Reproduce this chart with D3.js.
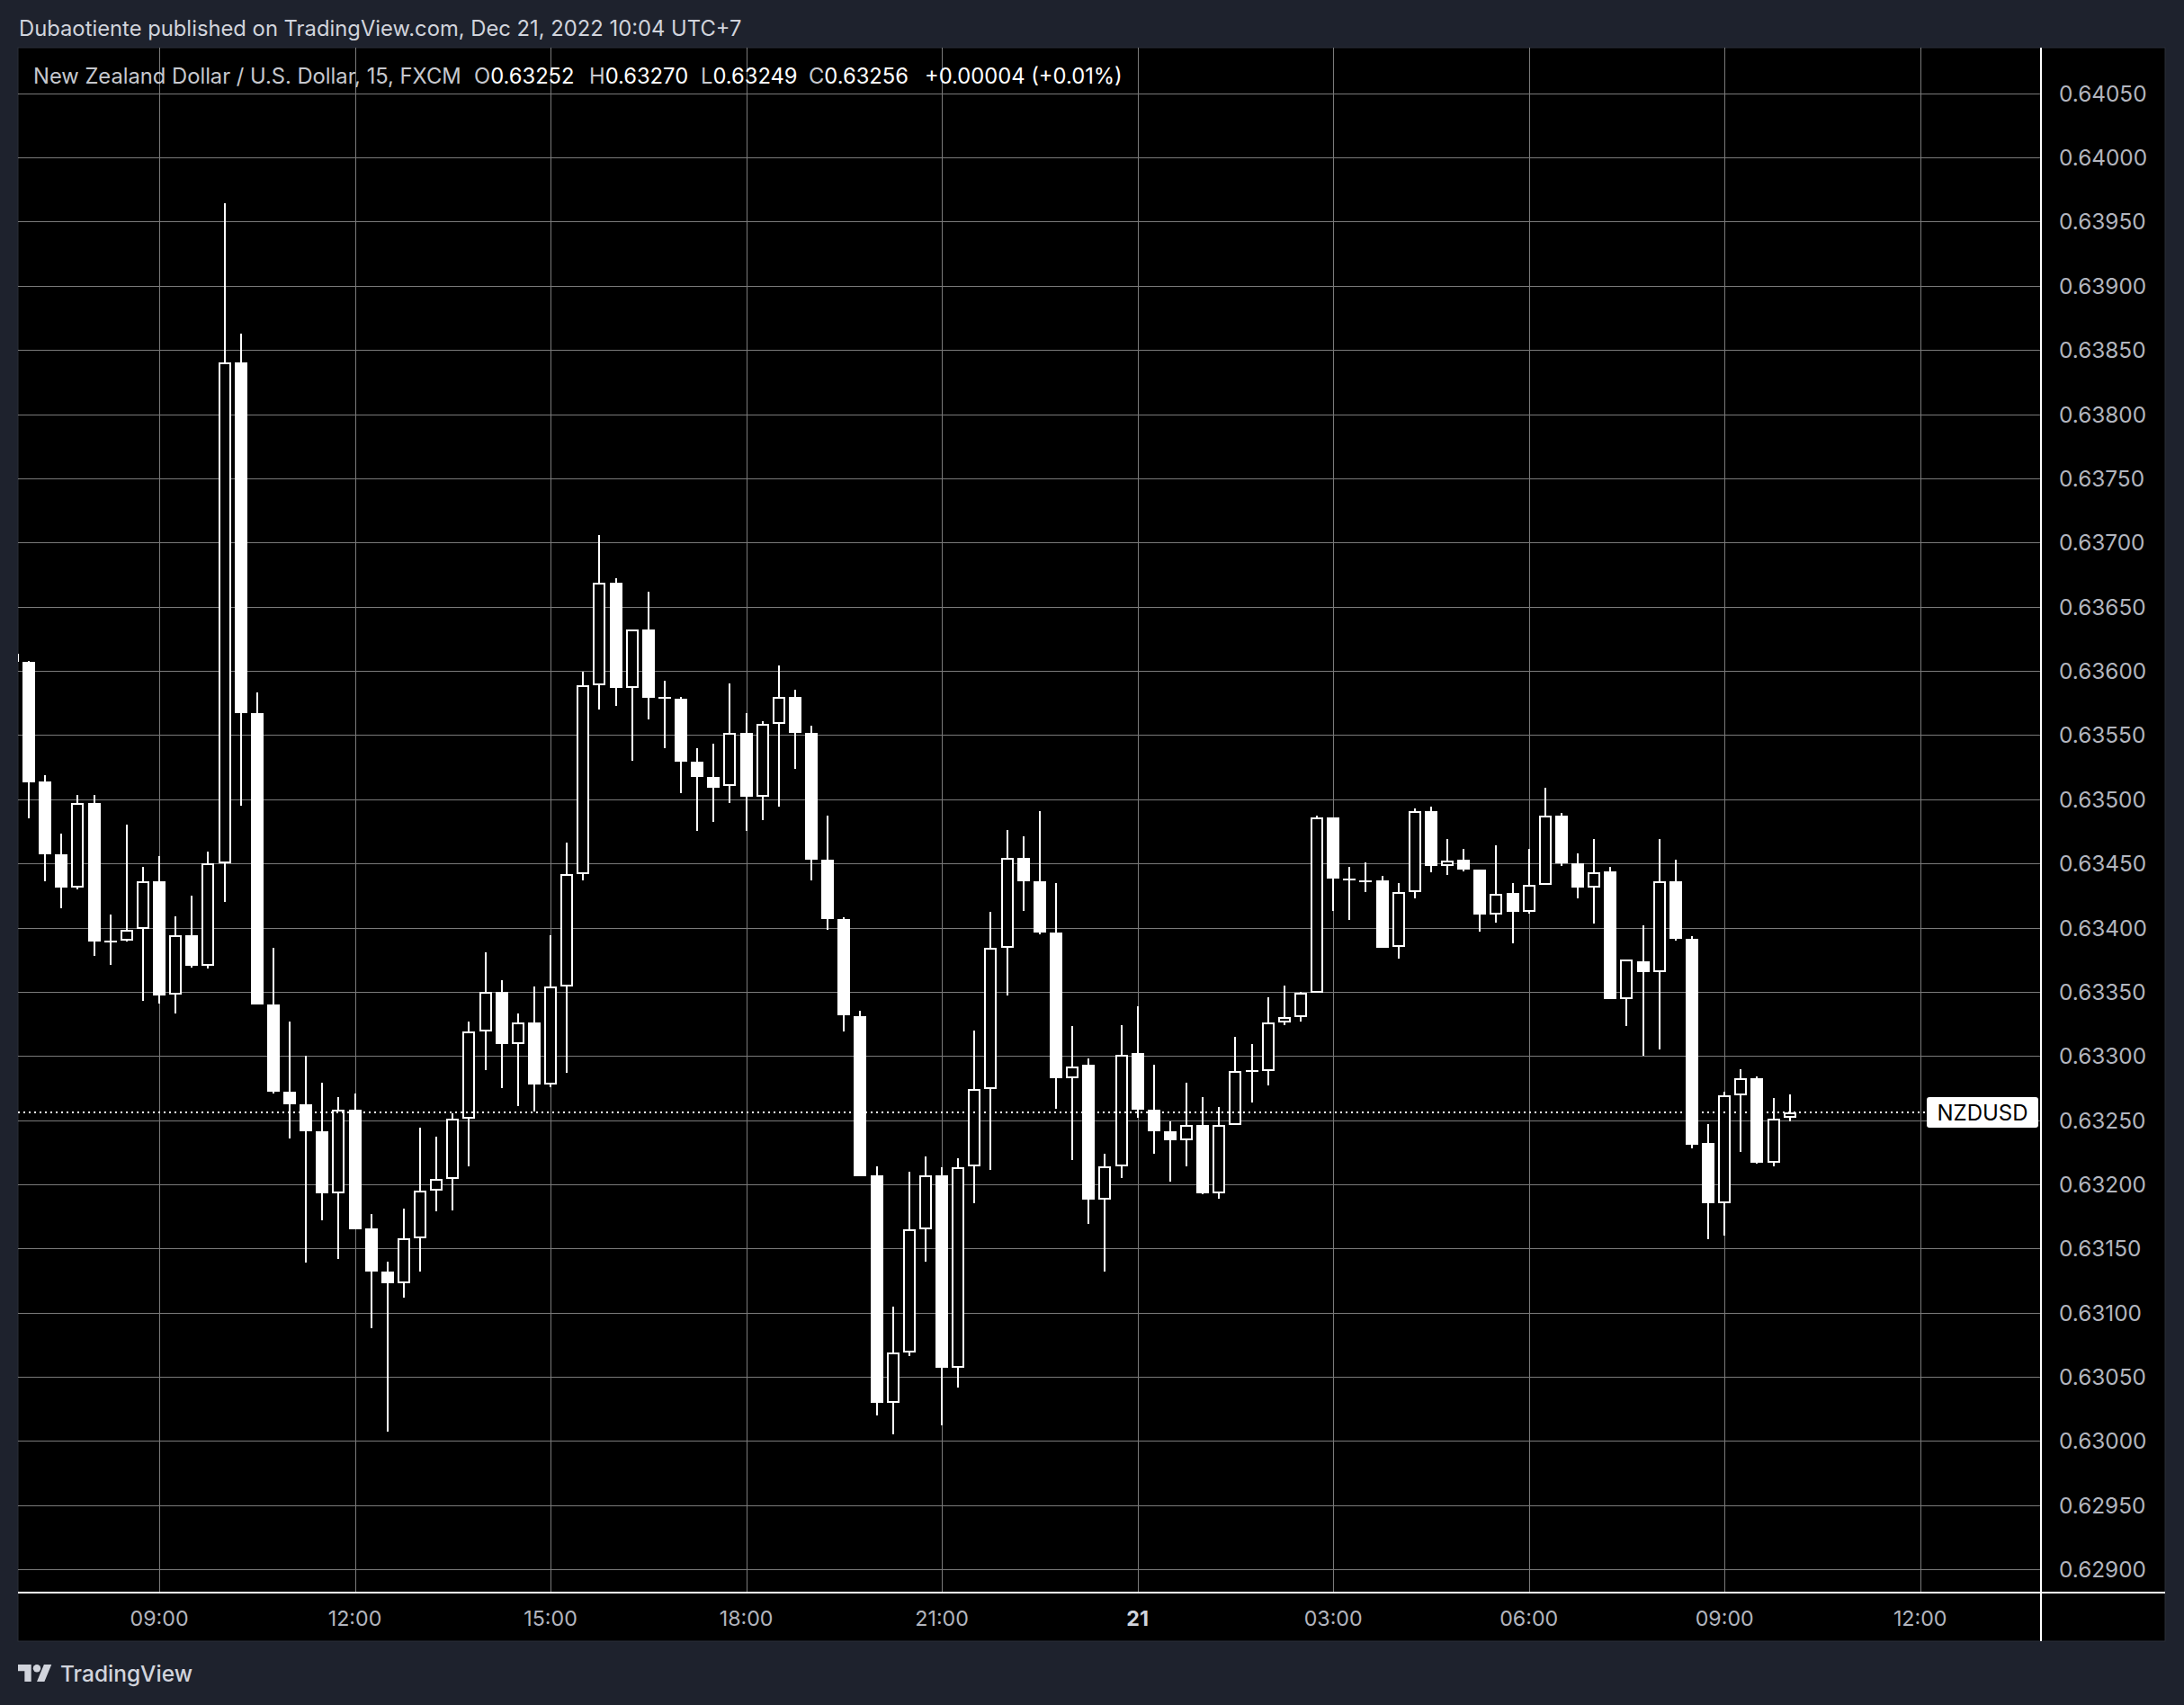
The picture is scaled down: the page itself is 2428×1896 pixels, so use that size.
<!DOCTYPE html>
<html><head><meta charset="utf-8">
<script src="https://cdn.jsdelivr.net/npm/d3@7/dist/d3.min.js"></script>
<style>html,body{margin:0;padding:0;background:#1e222d;overflow:hidden}svg{display:block}</style>
</head><body>
<script>
// ---------------- DATA ----------------
const startTime = "2022-12-20T06:45";   // first 15-minute bar (partly hidden at the left edge)
const opens = [0.63613,
0.63607,0.63514,0.63457,0.63431,0.63497,0.63389,0.63390,0.63399,0.63436,0.63348,
0.63394,0.63370,0.63450,0.63840,0.63567,0.63340,0.63272,0.63262,0.63241,0.63193,
0.63258,0.63166,0.63132,0.63123,0.63158,0.63195,0.63204,0.63251,0.63319,0.63350,
0.63309,0.63326,0.63278,0.63354,0.63442,0.63589,0.63669,0.63587,0.63632,0.63579,
0.63578,0.63529,0.63517,0.63510,0.63552,0.63502,0.63559,0.63580,0.63552,0.63453,
0.63407,0.63331,0.63207,0.63030,0.63069,0.63165,0.63207,0.63057,0.63214,0.63274,
0.63384,0.63454,0.63436,0.63396,0.63283,0.63293,0.63188,0.63214,0.63302,0.63258,
0.63241,0.63234,0.63246,0.63193,0.63246,0.63288,0.63288,0.63326,0.63330,0.63349,
0.63486,0.63438,0.63437,0.63437,0.63385,0.63428,0.63491,0.63448,0.63453,0.63445,
0.63410,0.63427,0.63412,0.63433,0.63487,0.63450,0.63431,0.63444,0.63344,0.63374,
0.63365,0.63436,0.63391,0.63232,0.63185,0.63269,0.63283,0.63217,0.63252];
const highs = [0.63620,
0.63608,0.63519,0.63473,0.63503,0.63503,0.63410,0.63480,0.63447,0.63456,0.63409,
0.63425,0.63459,0.63964,0.63863,0.63583,0.63384,0.63327,0.63300,0.63279,0.63268,
0.63271,0.63177,0.63140,0.63181,0.63244,0.63237,0.63255,0.63327,0.63381,0.63359,
0.63333,0.63354,0.63394,0.63466,0.63599,0.63706,0.63672,0.63632,0.63662,0.63592,
0.63580,0.63540,0.63543,0.63590,0.63567,0.63561,0.63604,0.63585,0.63557,0.63487,
0.63408,0.63335,0.63214,0.63105,0.63210,0.63222,0.63213,0.63220,0.63320,0.63412,
0.63476,0.63471,0.63491,0.63435,0.63323,0.63298,0.63224,0.63324,0.63339,0.63293,
0.63249,0.63279,0.63268,0.63260,0.63315,0.63309,0.63346,0.63355,0.63350,0.63487,
0.63486,0.63447,0.63451,0.63440,0.63435,0.63493,0.63494,0.63469,0.63461,0.63445,
0.63464,0.63435,0.63461,0.63509,0.63489,0.63458,0.63469,0.63447,0.63375,0.63402,
0.63469,0.63453,0.63393,0.63247,0.63272,0.63290,0.63284,0.63267,0.63270];
const lows = [0.63590,
0.63485,0.63436,0.63415,0.63430,0.63378,0.63371,0.63389,0.63343,0.63341,0.63333,
0.63369,0.63368,0.63420,0.63495,0.63340,0.63271,0.63236,0.63139,0.63172,0.63142,
0.63165,0.63088,0.63007,0.63112,0.63132,0.63179,0.63180,0.63214,0.63289,0.63275,
0.63261,0.63257,0.63276,0.63287,0.63437,0.63570,0.63573,0.63530,0.63562,0.63540,
0.63505,0.63475,0.63482,0.63497,0.63475,0.63484,0.63494,0.63524,0.63437,0.63398,
0.63319,0.63206,0.63020,0.63005,0.63066,0.63140,0.63012,0.63042,0.63185,0.63211,
0.63347,0.63413,0.63395,0.63259,0.63219,0.63169,0.63132,0.63205,0.63252,0.63224,
0.63202,0.63214,0.63192,0.63189,0.63246,0.63264,0.63277,0.63324,0.63327,0.63349,
0.63413,0.63406,0.63428,0.63384,0.63376,0.63423,0.63443,0.63441,0.63444,0.63397,
0.63404,0.63388,0.63411,0.63433,0.63448,0.63423,0.63403,0.63344,0.63323,0.63300,
0.63305,0.63390,0.63228,0.63157,0.63160,0.63225,0.63216,0.63214,0.63249];
const closes = [0.63607,
0.63513,0.63457,0.63431,0.63497,0.63389,0.63390,0.63398,0.63436,0.63347,0.63394,
0.63370,0.63450,0.63840,0.63567,0.63340,0.63272,0.63262,0.63241,0.63193,0.63258,
0.63165,0.63132,0.63123,0.63158,0.63195,0.63204,0.63251,0.63319,0.63350,0.63309,
0.63326,0.63278,0.63354,0.63442,0.63589,0.63669,0.63587,0.63632,0.63579,0.63579,
0.63529,0.63517,0.63509,0.63552,0.63502,0.63559,0.63580,0.63552,0.63453,0.63407,
0.63332,0.63206,0.63030,0.63069,0.63165,0.63207,0.63057,0.63213,0.63274,0.63384,
0.63454,0.63436,0.63396,0.63283,0.63292,0.63188,0.63214,0.63301,0.63258,0.63241,
0.63234,0.63246,0.63193,0.63246,0.63288,0.63289,0.63326,0.63330,0.63349,0.63486,
0.63438,0.63437,0.63436,0.63384,0.63428,0.63491,0.63448,0.63452,0.63445,0.63410,
0.63426,0.63412,0.63433,0.63487,0.63450,0.63431,0.63443,0.63344,0.63375,0.63365,
0.63436,0.63391,0.63231,0.63185,0.63269,0.63283,0.63217,0.63251,0.63256];

const priceTicks = [0.6290,0.6295,0.6300,0.6305,0.6310,0.6315,0.6320,0.6325,0.6330,0.6335,
  0.6340,0.6345,0.6350,0.6355,0.6360,0.6365,0.6370,0.6375,0.6380,0.6385,0.6390,0.6395,0.6400,0.6405];
const timeTicks = ["2022-12-20T09:00","2022-12-20T12:00","2022-12-20T15:00","2022-12-20T18:00",
  "2022-12-20T21:00","2022-12-21T00:00","2022-12-21T03:00","2022-12-21T06:00","2022-12-21T09:00","2022-12-21T12:00"];
const timeTickLabels = ["09:00","12:00","15:00","18:00","21:00","21","03:00","06:00","09:00","12:00"];
const timeDomain = ["2022-12-20T07:00","2022-12-21T12:00"];
const priceDomain = [0.6290, 0.6405];

const headerText = "Dubaotiente published on TradingView.com, Dec 21, 2022 10:04 UTC+7";
const symbolTitle = "New Zealand Dollar / U.S. Dollar, 15, FXCM";
const legendLetters = ["O","H","L","C"];
const legendValues = ["0.63252","0.63270","0.63249","0.63256"];
const legendChange = "+0.00004 (+0.01%)";
const lastPrice = 0.63256;
const symbolLabel = "NZDUSD";
const brandText = "TradingView";

// ---------------- LAYOUT ----------------
const W = 2428, H = 1896;
const panel = {x0: 20, y0: 53, x1: 2407, y1: 1825};
const plot = {x0: 20, y0: 53, x1: 2269, y1: 1771};
const FONT = "Inter, Roboto, 'Noto Sans', sans-serif";
const gridColor = "#7a7a7a";
const axisText = "#b2b5be";

const parse = d3.timeParse("%Y-%m-%dT%H:%M");
const t0 = parse(startTime);

const x = d3.scaleTime()
  .domain(timeDomain.map(parse))
  .range([32, 32 + 18.127 * 116]);
const y = d3.scaleLinear().domain(priceDomain).range([1745.2, 103.7]);

const candles = opens.map((o, i) => ({
  t: d3.timeMinute.offset(t0, 15 * i), o, h: highs[i], l: lows[i], c: closes[i]
}));

const svg = d3.select("body").append("svg")
  .attr("width", W).attr("height", H)
  .attr("font-family", FONT);

svg.append("rect").attr("width", W).attr("height", H).attr("fill", "#1e222d");
svg.append("rect")
  .attr("x", panel.x0).attr("y", panel.y0)
  .attr("width", panel.x1 - panel.x0).attr("height", panel.y1 - panel.y0)
  .attr("fill", "#000").attr("stroke", "#2a2e39").attr("stroke-width", 1);

svg.append("defs").append("clipPath").attr("id", "plotclip")
  .append("rect").attr("x", plot.x0).attr("y", plot.y0)
  .attr("width", plot.x1 - plot.x0).attr("height", plot.y1 - plot.y0);

// grid
const grid = svg.append("g").attr("shape-rendering", "crispEdges");
grid.selectAll("line.h").data(priceTicks).join("line")
  .attr("x1", plot.x0).attr("x2", plot.x1)
  .attr("y1", d => Math.round(y(d)) + 0.5).attr("y2", d => Math.round(y(d)) + 0.5)
  .attr("stroke", gridColor).attr("stroke-width", 1);
grid.selectAll("line.v").data(timeTicks.map(parse)).join("line")
  .attr("y1", plot.y0).attr("y2", plot.y1)
  .attr("x1", d => Math.round(x(d)) + 0.5).attr("x2", d => Math.round(x(d)) + 0.5)
  .attr("stroke", gridColor).attr("stroke-width", 1);

// candles
const cg = svg.append("g").attr("clip-path", "url(#plotclip)").attr("shape-rendering", "crispEdges");
const BW = 14;
candles.forEach(d => {
  const cx = Math.round(x(d.t));
  const yh = Math.round(y(d.h)), yl = Math.round(y(d.l));
  const yt = Math.round(y(Math.max(d.o, d.c))), yb = Math.round(y(Math.min(d.o, d.c)));
  cg.append("rect").attr("x", cx - 1).attr("y", yh).attr("width", 2)
    .attr("height", Math.max(1, yl - yh)).attr("fill", "#fff");
  if (yb - yt < 3) {
    cg.append("rect").attr("x", cx - BW / 2).attr("y", Math.round((yt + yb) / 2) - 1)
      .attr("width", BW).attr("height", 2).attr("fill", "#fff");
  } else if (d.c < d.o) {
    cg.append("rect").attr("x", cx - BW / 2).attr("y", yt)
      .attr("width", BW).attr("height", yb - yt).attr("fill", "#fff");
  } else {
    cg.append("rect").attr("x", cx - BW / 2 + 1).attr("y", yt + 1)
      .attr("width", BW - 2).attr("height", yb - yt - 2)
      .attr("fill", "#000").attr("stroke", "#fff").attr("stroke-width", 2);
  }
});

// last price dotted line and symbol label
const yLast = Math.round(y(lastPrice));
svg.append("line").attr("x1", plot.x0).attr("x2", 2142)
  .attr("y1", yLast).attr("y2", yLast)
  .attr("stroke", "#fff").attr("stroke-width", 2).attr("stroke-dasharray", "2,4");
svg.append("rect").attr("x", 2142).attr("y", yLast - 17).attr("width", 124).attr("height", 34)
  .attr("rx", 3).attr("fill", "#fff");
svg.append("text").attr("x", 2204).attr("y", yLast + 9)
  .attr("text-anchor", "middle").attr("font-size", 24).attr("fill", "#000").text(symbolLabel);

// axis lines
svg.append("rect").attr("x", plot.x0).attr("y", plot.y1 - 1).attr("width", panel.x1 - plot.x0).attr("height", 2).attr("fill", "#fff");
svg.append("rect").attr("x", plot.x1 - 1).attr("y", plot.y0).attr("width", 2).attr("height", panel.y1 - plot.y0).attr("fill", "#fff");

function fitWidth(sel, target) {
  const w = sel.node().getComputedTextLength();
  const fs = parseFloat(sel.attr("font-size"));
  const nfs = fs * target / w;
  sel.attr("font-size", nfs);
  return nfs;
}

// price axis labels
const pl = svg.append("g").selectAll("text").data(priceTicks).join("text")
  .attr("x", 2289).attr("y", d => y(d) + 9)
  .attr("font-size", 24).attr("fill", axisText)
  .text(d => d.toFixed(5));
const pfs = fitWidth(d3.select(pl.nodes()[0]), 97);
pl.attr("font-size", pfs);

// time axis labels
const tl = svg.append("g").selectAll("text").data(timeTicks.map((t, i) => ({t: parse(t), s: timeTickLabels[i]}))).join("text")
  .attr("x", d => x(d.t)).attr("y", 1808)
  .attr("text-anchor", "middle").attr("font-size", 24)
  .attr("fill", d => d.s.length < 3 ? "#d1d4dc" : axisText)
  .attr("font-weight", d => d.s.length < 3 ? 700 : 400)
  .text(d => d.s);
const tfs = fitWidth(d3.select(tl.nodes()[6]), 65);
tl.attr("font-size", tfs);

// header
const hdr = svg.append("text").attr("x", 21).attr("y", 40).attr("font-size", 24)
  .attr("fill", "#d1d4dc").text(headerText);
fitWidth(hdr, 804);

// legend
const lg = svg.append("g");
const title = lg.append("text").attr("x", 37).attr("y", 93).attr("font-size", 24)
  .attr("fill", "#c6c8ce").text(symbolTitle);
const lfs = fitWidth(title, 476);
const letterX = [527, 655, 779, 899];
legendLetters.forEach((L, i) => {
  const t = lg.append("text").attr("x", letterX[i]).attr("y", 93).attr("font-size", lfs);
  t.append("tspan").attr("fill", "#c6c8ce").text(L);
  t.append("tspan").attr("fill", "#ffffff").text(legendValues[i]);
});
lg.append("text").attr("x", 1028).attr("y", 93).attr("font-size", lfs)
  .attr("fill", "#ffffff").text(legendChange);

// brand
const logo = svg.append("g").attr("transform", "translate(20,1846.8) scale(1.05)").attr("fill", "#d1d4dc");
logo.append("path").attr("d", "M14 22H7V11H0V4h14v18zM28 22h-8l7.5-18h8L28 22z");
logo.append("circle").attr("cx", 20).attr("cy", 8).attr("r", 4);
const brand = svg.append("text").attr("x", 67).attr("y", 1870).attr("font-size", 26)
  .attr("font-weight", 500).attr("fill", "#d1d4dc").text(brandText);
fitWidth(brand, 147);
</script>
</body></html>
